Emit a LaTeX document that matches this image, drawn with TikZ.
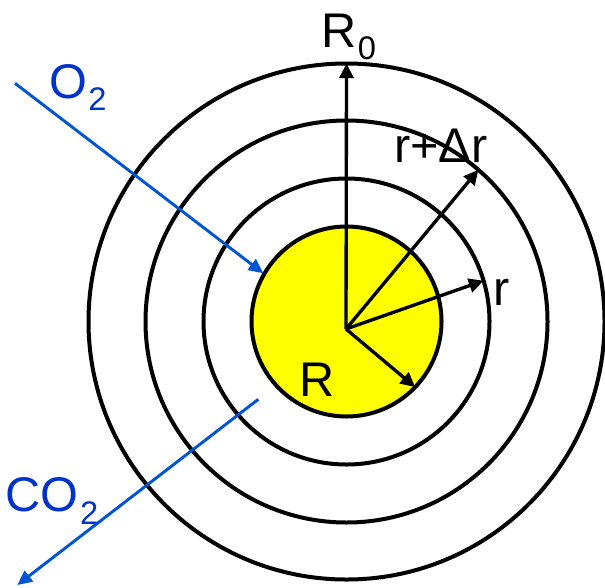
\documentclass[tikz,border=0pt]{standalone}
\usepackage{fontspec}
\setmainfont{Liberation Sans}
\usepackage{tikz}
\usetikzlibrary{calc,arrows.meta}
\definecolor{gasblue}{HTML}{0055D5}
\definecolor{labelblue}{HTML}{0033CC}
\definecolor{coreyellow}{HTML}{FFFF00}
\newcommand{\subidx}[1]{\kern1pt\raisebox{-9.5pt}{\fontsize{24.5}{26}\selectfont #1}}

\tikzset{
  ring/.style={line width=3pt},
  radius arrow/.style={line width=2.5pt, -{Triangle[length=11pt,width=10.5pt]}},
  gas arrow/.style={line width=2.2pt, draw=gasblue, -{Triangle[length=11pt,width=10pt]}},
  biglabel/.style={inner sep=0pt, anchor=base west, font=\fontsize{36.5}{40}\selectfont},
}

\begin{document}
\begin{tikzpicture}[x=0.75pt, y=0.75pt]
  \useasboundingbox (0,0) rectangle (605,587);
  \coordinate (c) at (346.5,265.5);
  \coordinate (o) at (346,258);

  % yellow core and the shells round it
  \draw[ring, fill=coreyellow] (c) circle (95);
  \foreach \r in {143,201,258} {
    \draw[ring] (c) circle (\r);
  }

  % radii
  \coordinate (tipRo) at ($(c)+(90:258)$);
  \coordinate (tipDr) at ($(c)+(49:201)$);
  \coordinate (tipr) at ($(c)+(16.6:143)$);
  \coordinate (tipR) at ($(c)+(-43.7:95)$);
  \foreach \t in {tipRo,tipDr,tipr,tipR} {
    \draw[radius arrow] (o) -- (\t);
  }
  \node[biglabel] (lblRo) at (321,540) {R\subidx{0}};
  \node[biglabel] (lblDr) at (394,425) {r+Δr};
  \node[biglabel] (lblr) at (493,282) {r};
  \node[biglabel] (lblR) at (299,191) {R};

  % O2 in, CO2 out
  \coordinate (o2start) at (15,503.7);
  \coordinate (o2end) at (263.3,313.7);
  \draw[gas arrow] (o2start) -- (o2end);
  \node[biglabel, text=labelblue] (lblO) at (49,489) {O\subidx{2}};
  \coordinate (co2start) at (258.3,187.7);
  \coordinate (co2end) at (17.3,2);
  \draw[gas arrow] (co2start) -- (co2end);
  \node[biglabel, text=labelblue] (lblCO) at (5.5,75.3) {CO\subidx{2}};
\end{tikzpicture}
\end{document}
